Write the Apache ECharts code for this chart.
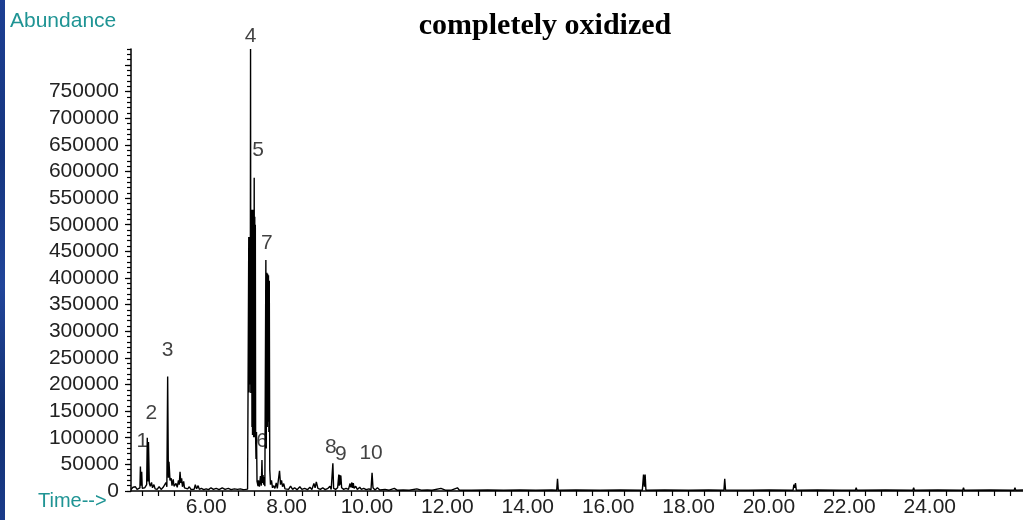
<!DOCTYPE html>
<html>
<head>
<meta charset="utf-8">
<script src="https://cdn.jsdelivr.net/npm/echarts@6/dist/echarts.min.js"></script>
<style>
  html, body { margin: 0; padding: 0; background: #fff; }
  #wrap { position: relative; width: 1023px; height: 520px; overflow: hidden; background: #fff; }
  #chart { position: absolute; left: 0; top: 0; width: 1023px; height: 520px; }
  #edge {
    position: absolute; left: 0; top: 0; width: 5px; height: 520px;
    background: linear-gradient(180deg, #1d3f93 0%, #15357f 30%, #21459a 55%, #123072 80%, #1a3b8a 100%);
  }
</style>
</head>
<body>
<div id="wrap"><div id="chart"></div><div id="edge"></div></div>
<script>
// Total ion chromatogram: retention time (min) vs abundance
const retentionTime = [
  4.130, 4.180, 4.200, 4.240, 4.280, 4.315, 4.352, 4.364, 4.378, 4.396,
  4.410, 4.440, 4.470, 4.500, 4.520, 4.535, 4.550, 4.565, 4.585, 4.610,
  4.640, 4.665, 4.700, 4.730, 4.780, 4.830, 4.880, 4.930, 4.970, 5.000,
  5.022, 5.042, 5.060, 5.075, 5.100, 5.130, 5.150, 5.180, 5.200, 5.250,
  5.280, 5.310, 5.330, 5.350, 5.370, 5.390, 5.410, 5.440, 5.460, 5.500,
  5.540, 5.580, 5.620, 5.660, 5.700, 5.730, 5.760, 5.800, 5.830, 5.880,
  5.940, 6.000, 6.060, 6.120, 6.180, 6.250, 6.320, 6.400, 6.470, 6.550,
  6.620, 6.700, 6.780, 6.850, 6.920, 6.980, 7.030,
  7.060, 7.068, 7.075, 7.082, 7.090, 7.097, 7.104, 7.111, 7.118, 7.125,
  7.132, 7.139, 7.146, 7.153, 7.160, 7.167, 7.174, 7.181, 7.188, 7.195,
  7.202, 7.209, 7.216, 7.223, 7.230, 7.240, 7.252, 7.265, 7.290, 7.300,
  7.325, 7.350, 7.372, 7.388, 7.400, 7.415, 7.430, 7.445, 7.460, 7.485,
  7.495, 7.510, 7.520, 7.530, 7.540, 7.550, 7.560, 7.570, 7.582, 7.600,
  7.625, 7.650, 7.675, 7.710, 7.743, 7.770, 7.825, 7.850, 7.875, 7.900,
  7.930, 7.960, 8.000, 8.050, 8.100, 8.150, 8.200, 8.260, 8.330, 8.380,
  8.450, 8.520, 8.580, 8.630, 8.680, 8.710, 8.740, 8.780, 8.840, 8.900,
  8.960, 9.030, 9.080, 9.110, 9.152, 9.170, 9.220, 9.270, 9.300, 9.310,
  9.325, 9.335, 9.350, 9.370, 9.420, 9.480, 9.540, 9.580, 9.600, 9.625,
  9.640, 9.660, 9.680, 9.720, 9.760, 9.820, 9.860, 9.920, 9.980, 10.050,
  10.100, 10.127, 10.150, 10.200, 10.260, 10.320, 10.450, 10.550, 10.680, 10.750,
  10.900, 11.050, 11.240, 11.260, 11.280, 11.350, 11.500, 11.620, 11.840, 11.880,
  11.950, 12.100, 12.250, 12.300, 12.600, 13.000, 13.400, 13.800, 14.200, 14.600,
  14.720, 14.740, 14.760, 15.200, 15.800, 16.300, 16.850, 16.880, 16.900, 16.920,
  16.940, 17.400, 18.000, 18.500, 18.880, 18.900, 18.920, 19.500, 20.000, 20.600,
  20.620, 20.640, 20.660, 20.680, 21.200, 21.800, 22.150, 22.170, 22.190, 22.900,
  23.580, 23.600, 23.620, 24.200, 24.820, 24.840, 24.860, 25.500, 26.100, 26.120,
  26.140, 26.320
];
const abundance = [
  3000, 7000, 4000, 8000, 3000, 5000, 6000, 46000, 10000, 36000,
  5000, 3000, 6000, 4000, 12000, 100000, 18000, 92000, 15000, 9000,
  16000, 6000, 12000, 4000, 3000, 8000, 3000, 7000, 4000, 16000,
  8000, 215000, 25000, 55000, 20000, 24000, 10000, 22000, 9000, 14000,
  7000, 20000, 12000, 36000, 15000, 24000, 8000, 18000, 6000, 9000,
  4000, 8000, 3000, 6000, 3000, 12000, 4000, 10000, 3000, 5000,
  2500, 4000, 2500, 6000, 3000, 5000, 2500, 6000, 3000, 5000,
  2500, 4000, 3000, 4000, 2500, 3000, 3500,
  477000, 185000, 470000, 200000, 477000, 250000, 830000, 184000, 470000, 200000,
  528000, 120000, 520000, 105000, 528000, 110000, 525000, 101000, 150000, 588000,
  101000, 515000, 110000, 500000, 101000, 60000, 111000, 18000, 9000, 20000,
  8000, 28000, 10000, 58000, 15000, 30000, 12000, 26000, 9000, 434000,
  80000, 410000, 120000, 408000, 130000, 405000, 111000, 395000, 40000, 12000,
  20000, 6000, 10000, 5000, 15000, 5000, 38000, 12000, 20000, 8000,
  14000, 4000, 6000, 3000, 9000, 3000, 6000, 2500, 8000, 3000,
  5000, 2500, 7000, 3000, 14000, 6000, 17000, 5000, 3000, 6000,
  2500, 5000, 9000, 3000, 52000, 5000, 3000, 6000, 31000, 10000,
  30000, 12000, 29000, 6000, 3000, 5000, 3000, 14000, 7000, 16000,
  6000, 15000, 5000, 9000, 3000, 7000, 3000, 5000, 2500, 4000,
  2000, 34000, 6000, 2000, 6000, 2000, 3000, 1500, 5000, 1500,
  2000, 1500, 4000, 5000, 4000, 1500, 2000, 1500, 5000, 5000,
  1500, 1500, 6000, 1500, 1500, 2000, 1500, 2000, 1500, 2000,
  1500, 23000, 1500, 2000, 1500, 2000, 1500, 31000, 8000, 31000,
  1500, 2000, 1500, 2000, 1500, 23000, 2000, 1500, 2000, 1500,
  12000, 6000, 15000, 1500, 2000, 1500, 1500, 6000, 1500, 2000,
  1500, 6000, 1500, 2000, 1500, 6000, 1500, 2000, 1500, 6000,
  1500, 2000
];

// Numbered peaks (retention time of each apex)
const peakNumbers = ['1', '2', '3', '4', '5', '6', '7', '8', '9', '10'];
const peakTimes = [4.364, 4.535, 5.042, 7.104, 7.195, 7.388, 7.485, 9.152, 9.300, 10.127];

// Axis tick labels
const timeLabels = [6, 8, 10, 12, 14, 16, 18, 20, 22, 24];
const abundanceLabels = [0, 50000, 100000, 150000, 200000, 250000, 300000, 350000,
  400000, 450000, 500000, 550000, 600000, 650000, 700000, 750000];

// Peak label placement relative to apex, in pixels
const peakLabelShift = [[2, -25], [4, -25], [0, -26], [0, -13], [4, -28],
  [0, -19], [1, -17], [-2, -16], [2, -20], [-1, -20]];

const timeMin = 4.13, timeMax = 26.32;
const abMax = 830000;

const numFont = '"Liberation Sans", Arial, sans-serif';
const teal = '#1f9494';

const timeTicks = [];
for (let k = 11; k * 0.4 <= timeMax; k++) timeTicks.push(+(k * 0.4).toFixed(2));
const majorAbTicks = [];
for (let v = 0; v <= 800000; v += 50000) majorAbTicks.push(v);

const traceData = retentionTime.map((t, i) => [t, abundance[i]]);
const peakData = peakTimes.map((t, i) => {
  const j = retentionTime.indexOf(t);
  return {
    value: [t, abundance[j]],
    name: peakNumbers[i],
    label: { offset: peakLabelShift[i] }
  };
});

const chart = echarts.init(document.getElementById('chart'), null, { renderer: 'canvas' });
chart.setOption({
  animation: false,
  backgroundColor: '#ffffff',
  title: {
    text: 'completely oxidized',
    left: 540, top: 6, textAlign: 'center',
    textStyle: { fontFamily: '"Liberation Serif", "Times New Roman", serif', fontWeight: 'bold', fontSize: 30, color: '#000' }
  },
  graphic: [
    { type: 'text', left: 10, top: 11, style: { text: 'Abundance', font: '21px "Liberation Sans", Arial, sans-serif', fill: teal } },
    { type: 'text', left: 38, top: 491, style: { text: 'Time-->', font: '20px "Liberation Sans", Arial, sans-serif', fill: teal } }
  ],
  grid: { left: 131, right: 0, top: 49, bottom: 29, containLabel: false },
  xAxis: {
    type: 'value', min: timeMin, max: timeMax,
    axisLine: { show: true, lineStyle: { color: '#000', width: 1.5 } },
    axisTick: { show: true, customValues: timeTicks, length: 5, inside: false, lineStyle: { color: '#000', width: 1.2 } },
    axisLabel: {
      customValues: timeLabels, margin: 6,
      formatter: v => v.toFixed(2),
      fontFamily: numFont, fontSize: 21, color: '#222'
    },
    splitLine: { show: false }
  },
  yAxis: [
    {
      type: 'value', min: 0, max: abMax, interval: 10000,
      axisLine: { show: true, lineStyle: { color: '#000', width: 1.5 } },
      axisTick: { show: true, length: 4, lineStyle: { color: '#000', width: 1.2 } },
      axisLabel: {
        customValues: abundanceLabels, margin: 12,
        formatter: v => String(v),
        fontFamily: numFont, fontSize: 21, color: '#222'
      },
      splitLine: { show: false }
    },
    {
      type: 'value', min: 0, max: abMax, position: 'left',
      axisLine: { show: false },
      axisTick: { show: true, customValues: majorAbTicks, length: 6, lineStyle: { color: '#000', width: 1.2 } },
      axisLabel: { show: false },
      splitLine: { show: false }
    }
  ],
  series: [
    {
      type: 'line', data: traceData, showSymbol: false, symbol: 'none',
      lineStyle: { color: '#000', width: 1.4 },
      silent: true, z: 3
    },
    {
      type: 'scatter', data: peakData, symbolSize: 0, silent: true, z: 4,
      label: {
        show: true, position: 'inside', formatter: p => p.name,
        fontFamily: numFont, fontSize: 21, color: '#111'
      }
    }
  ]
});
</script>
</body>
</html>
